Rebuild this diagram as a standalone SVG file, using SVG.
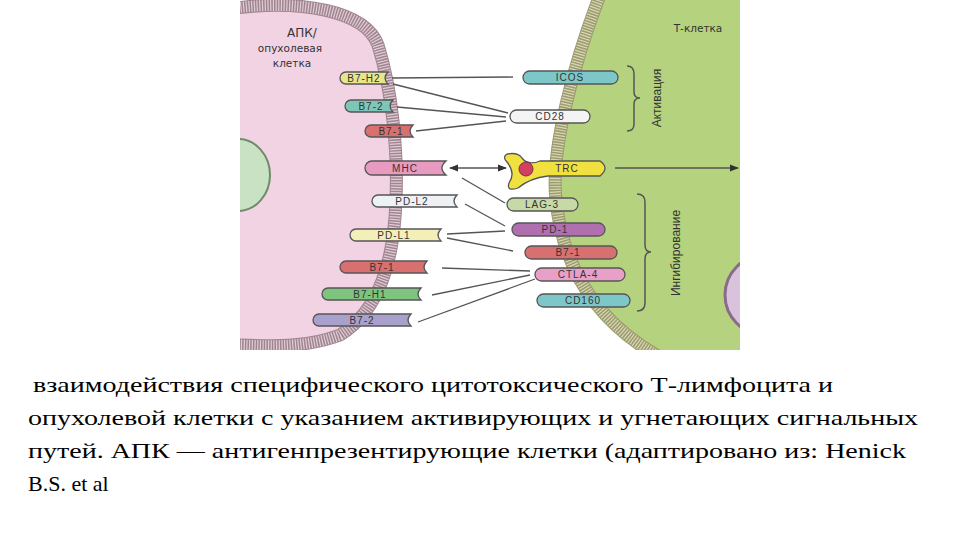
<svg xmlns="http://www.w3.org/2000/svg" width="960" height="540" viewBox="0 0 960 540">
<style>
.lbl{font-family:"Liberation Sans",Arial,sans-serif;font-size:10px;fill:#333;text-anchor:middle;letter-spacing:1px}
.cell{font-family:"DejaVu Sans",sans-serif;font-size:10.5px;fill:#333;text-anchor:middle}
.mol{stroke:#555;stroke-width:1.3}
.con{stroke:#555;stroke-width:1.3;fill:none}
.cap{font-family:"Liberation Serif","Times New Roman","DejaVu Serif",serif;font-size:22px;fill:#000}
.mem{fill:none;stroke-width:13}
.memd{fill:none;stroke-width:11;stroke-dasharray:1.2 1.5}
.vert{font-family:"Liberation Sans Narrow","Liberation Sans",sans-serif;font-size:12px;fill:#333;text-anchor:middle}
</style>
<defs>
<marker id="ah" viewBox="0 0 10 10" refX="9" refY="5" markerWidth="7" markerHeight="7" orient="auto-start-reverse"><path d="M0,1 L10,5 L0,9 Z" fill="#333"/></marker>
<clipPath id="clip"><rect x="240" y="0" width="500" height="350"/></clipPath>
</defs>
<g id="cells" clip-path="url(#clip)">
<rect x="240" y="0" width="500" height="350" fill="#fff"/>
<path d="M600,-5 C575,60 550,150 556,200 C562,260 590,320 665,360 L745,360 L745,-5 Z" fill="#b5d37e"/>
<path d="M600,-5 C575,60 550,150 556,200 C562,260 590,320 665,360" class="mem" stroke="#9c9a70"/>
<path d="M600,-5 C575,60 550,150 556,200 C562,260 590,320 665,360" class="memd" stroke="#d8d8b0"/>
<circle cx="765" cy="295" r="40" fill="#d9c3dc" stroke="#8a6a8a" stroke-width="3"/>
<path d="M235,8 C300,0 365,10 378,45 C392,90 398,150 396,200 C394,260 380,310 340,335 C300,350 260,345 235,345 Z" fill="#f2d3e3"/>
<path d="M235,8 C300,0 365,10 378,45 C392,90 398,150 396,200 C394,260 380,310 340,335 C300,350 260,345 235,345" class="mem" stroke="#a08590"/>
<path d="M235,8 C300,0 365,10 378,45 C392,90 398,150 396,200 C394,260 380,310 340,335 C300,350 260,345 235,345" class="memd" stroke="#e0cdd5"/>
<ellipse cx="238" cy="175" rx="32" ry="36" fill="#c9e2c4" stroke="#6f8a6a" stroke-width="2"/>
</g>
<g id="labels-cells">
<text class="cell" x="302" y="37" style="font-size:12px">АПК/</text>
<text class="cell" x="290" y="52">опухолевая</text>
<text class="cell" x="292" y="67">клетка</text>
<text class="cell" x="698" y="32">Т-клетка</text>
</g>
<g id="connectors">
<line class="con" x1="392" y1="78" x2="513" y2="77"/>
<line class="con" x1="393" y1="84" x2="508" y2="113"/>
<line class="con" x1="397" y1="107" x2="506" y2="117"/>
<line class="con" x1="416" y1="131" x2="506" y2="121"/>
<line class="con" x1="450" y1="168" x2="506" y2="168" marker-start="url(#ah)" marker-end="url(#ah)"/>
<line class="con" x1="462" y1="178" x2="505" y2="203"/>
<line class="con" x1="465" y1="204" x2="505" y2="226"/>
<line class="con" x1="447" y1="234" x2="505" y2="231"/>
<line class="con" x1="447" y1="238" x2="513" y2="251"/>
<line class="con" x1="442" y1="268" x2="530" y2="271"/>
<line class="con" x1="432" y1="295" x2="530" y2="275"/>
<line class="con" x1="418" y1="322" x2="535" y2="279"/>
<line class="con" x1="615" y1="168" x2="738" y2="168" marker-end="url(#ah)"/>
</g>
<g id="B7-H2"><path class="mol" fill="#e8e68a" d="M346,72 H388 Q382,78 388,84 H346 A6,6 0 0 1 346,72 Z"/><text class="lbl" x="364" y="82">B7-H2</text></g>
<g id="B7-2a"><path class="mol" fill="#7ec7b8" d="M351,100 H393 Q387,106 393,112 H351 A6,6 0 0 1 351,100 Z"/><text class="lbl" x="371" y="110">B7-2</text></g>
<g id="B7-1a"><path class="mol" fill="#d97070" d="M371,125 H413 Q407,131 413,137 H371 A6,6 0 0 1 371,125 Z"/><text class="lbl" x="391" y="135">B7-1</text></g>
<g id="MHC"><path class="mol" fill="#e89ac0" d="M372,161 H446 Q438,168 446,175 H372 A7,7 0 0 1 372,161 Z"/><text class="lbl" x="405" y="172">MHC</text></g>
<g id="PD-L2"><path class="mol" fill="#eef2f4" d="M378,195 H457 Q451,201 457,207 H378 A6,6 0 0 1 378,195 Z"/><text class="lbl" x="412" y="205">PD-L2</text></g>
<g id="PD-L1"><path class="mol" fill="#f3efb8" d="M356,229 H441 Q435,235 441,241 H356 A6,6 0 0 1 356,229 Z"/><text class="lbl" x="394" y="239">PD-L1</text></g>
<g id="B7-1b"><path class="mol" fill="#d97070" d="M346,261 H427 Q421,267 427,273 H346 A6,6 0 0 1 346,261 Z"/><text class="lbl" x="382" y="271">B7-1</text></g>
<g id="B7-H1"><path class="mol" fill="#7ec37e" d="M328,288 H421 Q415,294 421,300 H328 A6,6 0 0 1 328,288 Z"/><text class="lbl" x="370" y="298">B7-H1</text></g>
<g id="B7-2b"><path class="mol" fill="#a9a0cc" d="M319,314 H411 Q405,320 411,326 H319 A6,6 0 0 1 319,314 Z"/><text class="lbl" x="362" y="324">B7-2</text></g>
<g id="ICOS"><rect class="mol" fill="#7ec7c8" x="523" y="71" width="95" height="13" rx="6.5"/><text class="lbl" x="570" y="81">ICOS</text></g>
<g id="CD28"><rect class="mol" fill="#f4f4f4" x="510" y="110" width="80" height="13" rx="6.5"/><text class="lbl" x="550" y="120">CD28</text></g>
<g id="TRC"><path class="mol" fill="#f0e040" d="M507,154 Q518,152 522,158 Q528,166 540,161 H600 Q610,168 600,176 H548 Q530,178 518,188 Q506,192 509,183 Q516,173 507,162 Q502,157 507,154 Z"/><circle cx="526" cy="169" r="7" fill="#d04060" stroke="#803040"/><text class="lbl" x="567" y="172">TRC</text></g>
<g id="LAG-3"><rect class="mol" fill="#c7d9a6" x="507" y="198" width="71" height="13" rx="6.5"/><text class="lbl" x="542" y="208">LAG-3</text></g>
<g id="PD-1"><rect class="mol" fill="#b070b0" x="512" y="223" width="93" height="13" rx="6.5"/><text class="lbl" x="555" y="233">PD-1</text></g>
<g id="B7-1c"><rect class="mol" fill="#d97070" x="525" y="246" width="92" height="13" rx="6.5"/><text class="lbl" x="568" y="256">B7-1</text></g>
<g id="CTLA-4"><rect class="mol" fill="#e8a0c8" x="535" y="268" width="90" height="13" rx="6.5"/><text class="lbl" x="578" y="278">CTLA-4</text></g>
<g id="CD160"><rect class="mol" fill="#7ec7c8" x="537" y="294" width="93" height="13" rx="6.5"/><text class="lbl" x="583" y="304">CD160</text></g>
<g id="braces" fill="none" stroke="#555" stroke-width="1.5">
<path d="M627,66 Q634,66 634,74 V92 Q634,98 640,98 Q634,98 634,104 V124 Q634,131 627,131"/>
<path d="M637,194 Q645,194 645,202 V245 Q645,252 651,252 Q645,252 645,259 V303 Q645,311 637,311"/>
</g>
<text class="vert" transform="translate(661,98) rotate(-90)">Активация</text>
<text class="vert" transform="translate(680,253) rotate(-90)">Ингибирование</text>
<g id="caption">
<text class="cap" x="33" y="392" textLength="800" lengthAdjust="spacingAndGlyphs">взаимодействия специфического цитотоксического Т-лимфоцита и</text>
<text class="cap" x="28" y="425" textLength="890" lengthAdjust="spacingAndGlyphs">опухолевой клетки с указанием активирующих и угнетающих сигнальных</text>
<text class="cap" x="28" y="458" textLength="878" lengthAdjust="spacingAndGlyphs">путей. АПК — антигенпрезентирующие клетки (адаптировано из: Henick</text>
<text class="cap" x="28" y="491">B.S. et al</text>
</g>
</svg>
